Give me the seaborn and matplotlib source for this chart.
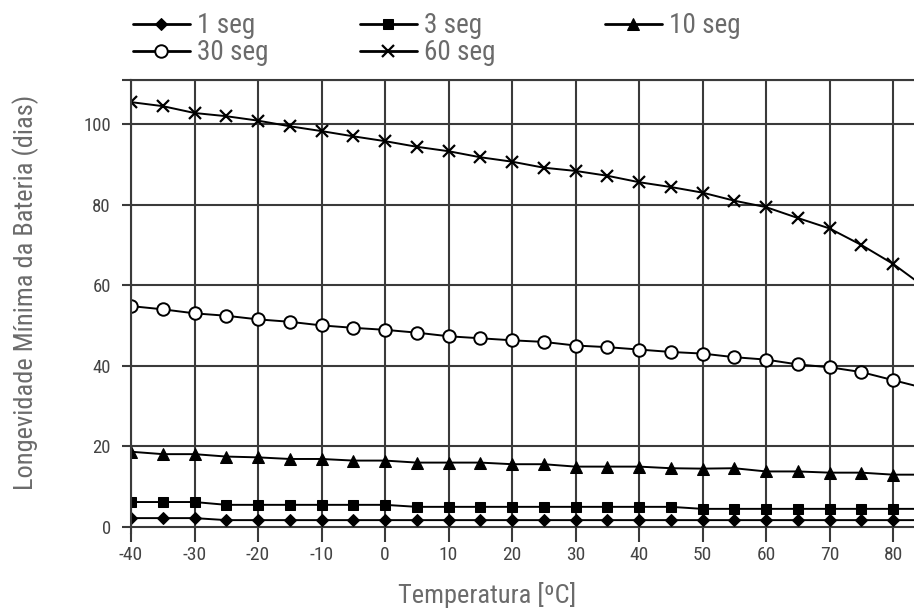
import matplotlib
matplotlib.use("Agg")
import matplotlib.pyplot as plt
from matplotlib import font_manager
import pandas as pd
import seaborn as sns


sns.set_style("white")

# the original uses a condensed sans; take the narrowest one installed
installed = {f.name for f in font_manager.fontManager.ttflist}
candidates = ["Liberation Sans Narrow", "Roboto Condensed", "DejaVu Sans Condensed",
              "Arial Narrow", "Liberation Sans"]
font_name = next((c for c in candidates if c in installed), "DejaVu Sans")
narrow = font_name != "Liberation Sans" and font_name != "DejaVu Sans"
scale = 1.0 if narrow else 0.84
plt.rcParams["font.family"] = [font_name, "DejaVu Sans"]
plt.rcParams["axes.unicode_minus"] = False

# temperature (ºC); the last point only carries the curves to the right edge
temperatures = [-40, -35, -30, -25, -20, -15, -10, -5, 0, 5, 10, 15, 20,
                25, 30, 35, 40, 45, 50, 55, 60, 65, 70, 75, 80, 85]
seg_1 = [2.1, 2.1, 2.1, 1.6, 1.6, 1.6, 1.6, 1.6, 1.6, 1.6, 1.6, 1.6, 1.6,
         1.6, 1.6, 1.6, 1.6, 1.6, 1.6, 1.6, 1.6, 1.6, 1.6, 1.6, 1.6, 1.6]
seg_3 = [6.1, 6.1, 6.1, 5.4, 5.4, 5.4, 5.4, 5.4, 5.4, 4.9, 4.9, 4.9, 4.9,
         4.9, 4.9, 4.9, 4.9, 4.9, 4.4, 4.4, 4.4, 4.4, 4.4, 4.4, 4.4, 4.4]
seg_10 = [18.6, 18.0, 18.0, 17.4, 17.2, 16.8, 16.8, 16.4, 16.4, 15.9, 15.9, 15.9, 15.5,
          15.5, 14.9, 14.9, 14.9, 14.5, 14.4, 14.5, 13.7, 13.7, 13.4, 13.4, 12.9, 12.9]
seg_30 = [54.8, 54.0, 53.0, 52.4, 51.5, 50.9, 50.0, 49.4, 48.9, 48.2, 47.3, 46.8, 46.3,
          45.9, 45.0, 44.6, 44.0, 43.4, 43.0, 42.1, 41.5, 40.3, 39.6, 38.4, 36.4, 34.4]
seg_60 = [105.5, 104.5, 102.8, 102.0, 100.9, 99.5, 98.3, 97.0, 95.8, 94.4, 93.3, 91.8, 90.7,
          89.2, 88.4, 87.2, 85.6, 84.4, 83.0, 81.0, 79.4, 76.7, 74.1, 70.0, 65.3, 59.5]

x_ticks = [-40, -30, -20, -10, 0, 10, 20, 30, 40, 50, 60, 70, 80]
y_ticks = [0, 20, 40, 60, 80, 100]

series = {
    "1 seg": (seg_1, dict(marker="D", markersize=6.5, markerfacecolor="black")),
    "3 seg": (seg_3, dict(marker="s", markersize=7.5, markerfacecolor="black")),
    "10 seg": (seg_10, dict(marker="^", markersize=8.5, markerfacecolor="black")),
    "30 seg": (seg_30, dict(marker="o", markersize=9, markerfacecolor="white",
                            markeredgewidth=1.4)),
    "60 seg": (seg_60, dict(marker="x", markersize=9, markeredgewidth=1.6)),
}

text_grey = "#6b6b6b"
tick_grey = "#444444"
grid_grey = "#3a3a3a"

fig = plt.figure(figsize=(9.14, 6.1), dpi=100)
ax = fig.add_axes([131 / 914, 77 / 610, 783 / 914, 453 / 610])

handles = {}
for name, (values, style) in series.items():
    df = pd.DataFrame({"t": temperatures, "v": values})
    sns.lineplot(data=df, x="t", y="v", ax=ax, color="black", linewidth=1.4,
                 markeredgecolor="black", markevery=slice(0, 25), **style)
    handles[name] = ax.get_lines()[-1]

ax.set_xlim(-40, 83.3)
ax.set_ylim(-1.6, 111)
ax.set_xticks(x_ticks)
ax.set_yticks(y_ticks + [111])
ax.set_yticklabels([str(v) for v in y_ticks] + [""])
ax.grid(True, color=grid_grey, linewidth=1.5)
ax.set_axisbelow(True)
ax.set_xlabel("")
ax.set_ylabel("")

for side in ["bottom", "right"]:
    ax.spines[side].set_visible(False)
for side in ["left", "top"]:
    ax.spines[side].set_color(grid_grey)
    ax.spines[side].set_linewidth(1.5)

ax.tick_params(axis="x", direction="out", length=6.5, width=1.5, color=grid_grey,
               bottom=True, pad=2.5, labelsize=14 * scale, labelcolor=tick_grey)
ax.tick_params(axis="y", direction="out", length=6.5, width=1.5, color=grid_grey,
               left=True, pad=8, labelsize=13.5 * scale, labelcolor=tick_grey)

fig.text(487 / 914, 1 - 603 / 610, "Temperatura [ºC]", ha="center", va="baseline",
         fontsize=19 * scale, color=text_grey)
fig.text(26 / 914, 1 - 292 / 610, "Longevidade Mínima da Bateria (dias)", ha="center",
         va="center", rotation=90, fontsize=19 * scale, color=text_grey)

columns = [(["1 seg", "30 seg"], 133), (["3 seg", "60 seg"], 360), (["10 seg"], 605)]
for names, x0 in columns:
    leg = fig.legend([handles[n] for n in names], names, loc="upper left",
                     bbox_to_anchor=(x0 / 914, 1 - 12 / 610), frameon=False,
                     fontsize=19.5 * scale, handlelength=2.1 / scale, handletextpad=0.25,
                     labelspacing=0.0, borderpad=0, borderaxespad=0,
                     labelcolor=text_grey)
    for line in leg.get_lines():
        line.set_linewidth(2)

fig.savefig("out.png", dpi=100)
plt.close(fig)
